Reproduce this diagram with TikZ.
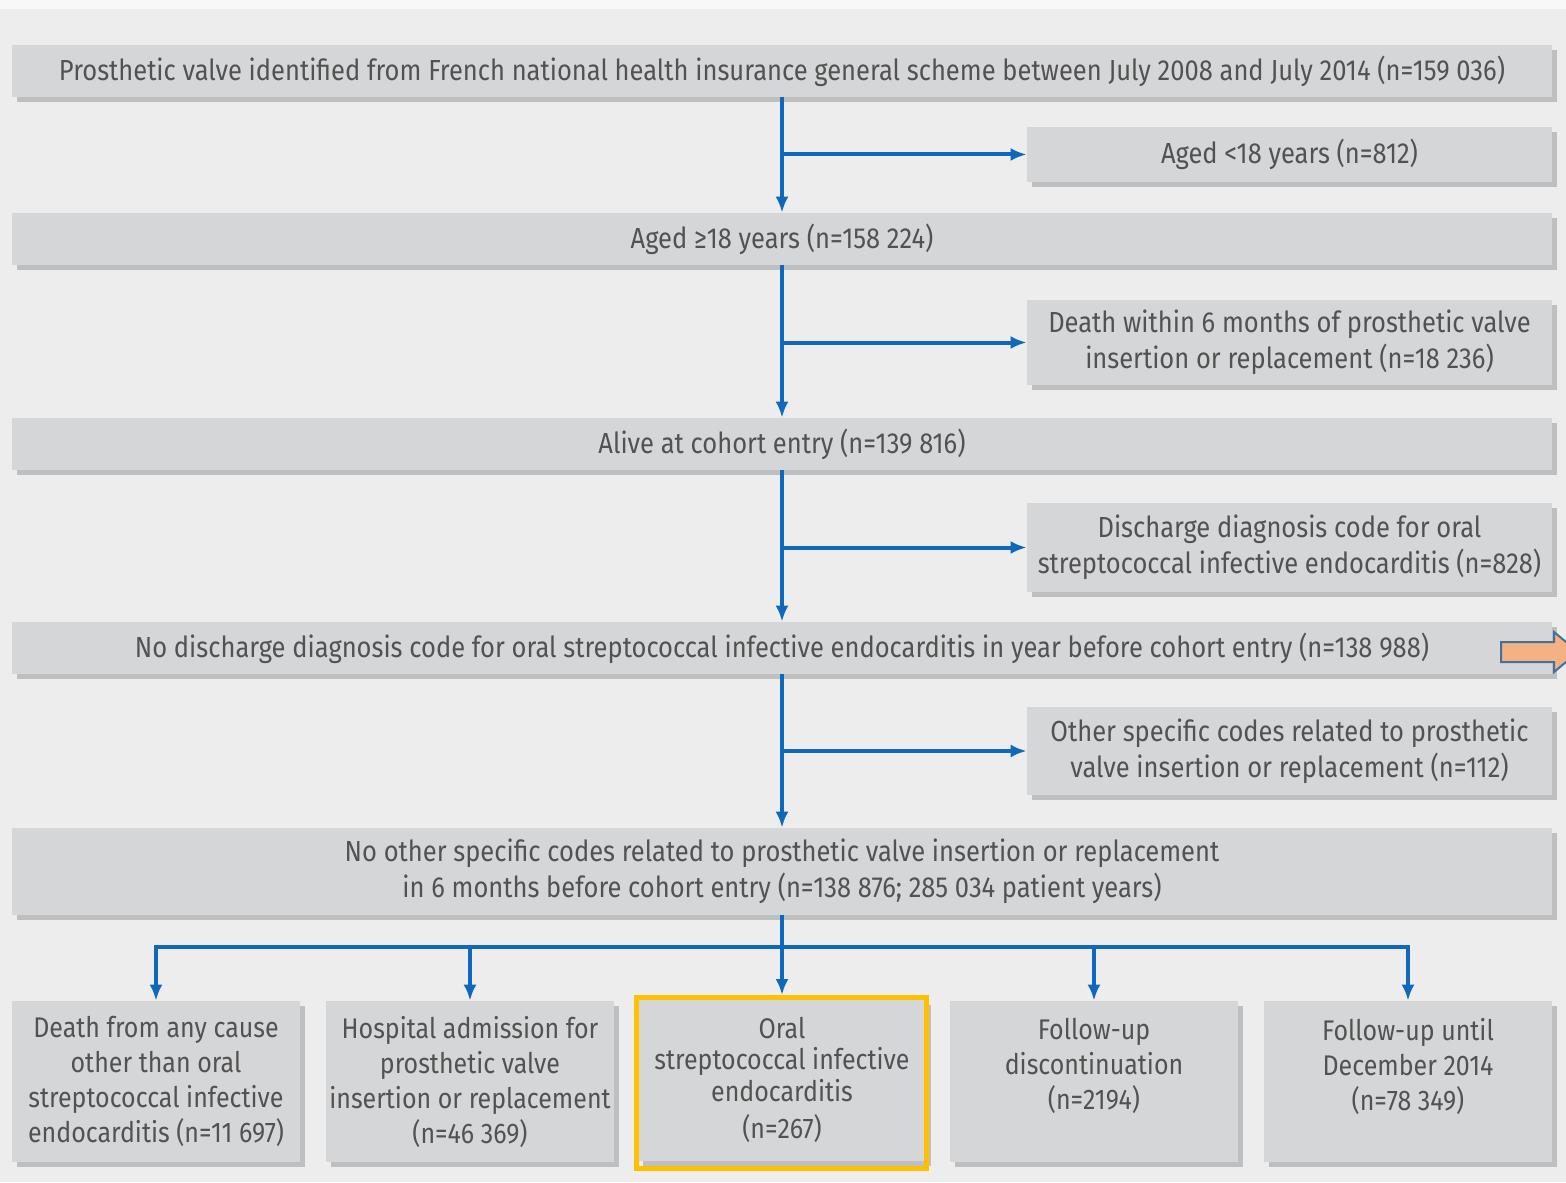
\documentclass[tikz,border=0pt]{standalone}
\usepackage{fontspec}
\setmainfont{Fira Sans}[FakeStretch=0.88]
\usetikzlibrary{arrows.meta,shadows}

\definecolor{bg}{HTML}{EDEDED}
\definecolor{boxgray}{HTML}{D5D6D8}
\definecolor{shadowgray}{HTML}{BEBFC1}
\definecolor{txt}{HTML}{525252}
\definecolor{flowblue}{HTML}{1068BD}
\definecolor{hilite}{HTML}{FFC000}
\definecolor{arrowfill}{HTML}{F4B183}
\definecolor{arrowedge}{HTML}{41719C}

\tikzset{
  box/.style={fill=boxgray, draw=none, text=txt, inner sep=0pt, align=center,
    font=\fontsize{14.5}{18}\selectfont,
    drop shadow={shadow xshift=2.5pt, shadow yshift=-2.5pt, fill=shadowgray, opacity=1}},
  mainbox/.style={box, minimum width=770pt, minimum height=26pt},
  sidebox/.style={box, minimum width=262.5pt},
  leafbox/.style={box, minimum width=144pt, minimum height=80.5pt,
    font=\fontsize{14.2}{17.5}\selectfont},
  flowline/.style={draw=flowblue, line width=2pt},
  flow/.style={flowline, -{Latex[length=8pt,width=6.5pt]}},
  hiframe/.style={draw=hilite, line width=2.5pt, fill=none, inner sep=0pt,
    minimum width=145pt, minimum height=85.5pt}
}

\begin{document}
\begin{tikzpicture}[x=0.5pt,y=-0.5pt]
\useasboundingbox (0,0) rectangle (1566,1182);
\fill[bg] (0,0) rectangle (1566,1182);
\fill[white!60!bg] (0,0) rectangle (1566,9);

% main stages of the cohort
\node[mainbox] (b1) at (782,71) {Prosthetic valve identified from French national health insurance general scheme between July 2008 and July 2014 (n=159 036)};
\node[mainbox] (b2) at (782,239) {Aged ≥18 years (n=158 224)};
\node[mainbox] (b3) at (782,444) {Alive at cohort entry (n=139 816)};
\node[mainbox] (b4) at (782,648) {No discharge diagnosis code for oral streptococcal infective endocarditis in year before cohort entry (n=138 988)};
\node[mainbox, minimum height=43.5pt] (b5) at (782,871.5) {No other specific codes related to prosthetic valve insertion or replacement\\in 6 months before cohort entry (n=138 876; 285 034 patient years)};

% exclusions
\node[sidebox, minimum height=27.5pt] (s1) at (1289.5,154.5) {Aged <18 years (n=812)};
\node[sidebox, minimum height=42.5pt] (s2) at (1289.5,342.5) {Death within 6 months of prosthetic valve\\insertion or replacement (n=18 236)};
\node[sidebox, minimum height=44.5pt] (s3) at (1289.5,547.5) {Discharge diagnosis code for oral\\streptococcal infective endocarditis (n=828)};
\node[sidebox, minimum height=44pt] (s4) at (1289.5,751) {Other specific codes related to prosthetic\\valve insertion or replacement (n=112)};

% outcomes (text set from the top of each box)
\node[leafbox] (o1) at (156,1081.5) {Death from any cause\\other than oral\\streptococcal infective\\endocarditis (n=11 697)};
\node[leafbox] (o2) at (470,1081.5) {Hospital admission for\\prosthetic valve\\insertion or replacement\\(n=46 369)};
\node[leafbox] (o3) at (782,1080) {Oral\\[-2pt]streptococcal infective\\[-1.5pt]endocarditis\\[1pt](n=267)};
\node[leafbox] (o4) at (1094,1081.5) {Follow-up\\discontinuation\\(n=2194)\\\mbox{}};
\node[leafbox] (o5) at (1408,1081.5) {Follow-up until\\December 2014\\(n=78 349)\\\mbox{}};
\node[hiframe] (hf) at (781,1083) {};

% flow down the cohort
\draw[flow] (b1.south) -- (b2.north);
\draw[flow] (b2.south) -- (b3.north);
\draw[flow] (b3.south) -- (b4.north);
\draw[flow] (b4.south) -- (b5.north);
\draw[flow] (b1.south |- s1.west) -- (s1.west);
\draw[flow] (b2.south |- s2.west) -- (s2.west);
\draw[flow] (b3.south |- s3.west) -- (s3.west);
\draw[flow] (b4.south |- s4.west) -- (s4.west);

% split into outcomes
\coordinate (hub) at (782,947);
\draw[flow] (b5.south) -- (b5.south |- hf.north);
\draw[flow] (hub) -| (o1.north);
\draw[flow] (hub) -| (o5.north);
\draw[flow] (hub -| o2.north) -- (o2.north);
\draw[flow] (hub -| o4.north) -- (o4.north);

% block arrow at the right edge
\filldraw[fill=arrowfill, draw=arrowedge, line width=1pt]
  (1501,642) -- (1554,642) -- (1554,632) -- (1578,652) -- (1554,672)
  -- (1554,662) -- (1501,662) -- cycle;
\end{tikzpicture}
\end{document}
